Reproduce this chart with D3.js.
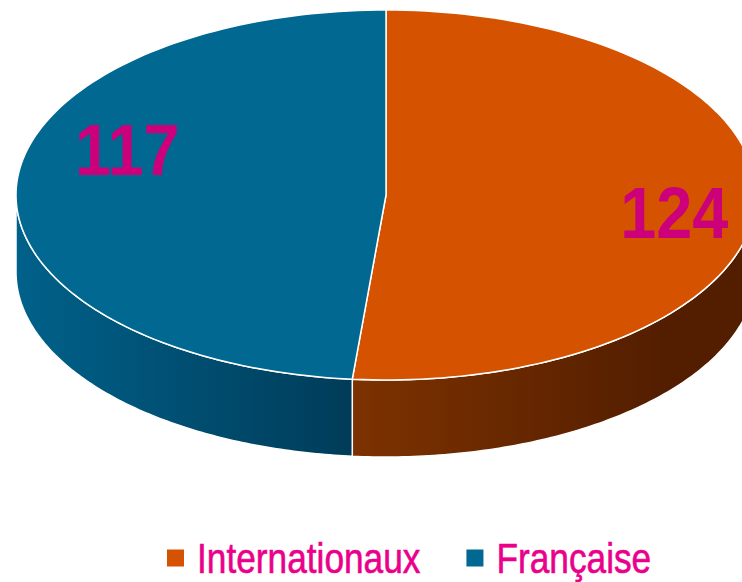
<!DOCTYPE html>
<html lang="fr">
  <head>
    <meta charset="utf-8" />
    <title>Internationaux / Française</title>
    <script src="https://cdn.jsdelivr.net/npm/d3@7"></script>
    <style type="text/css">
      body {
        margin: 0;
        background: #fff;
      }
      .value {
        font-family: "Liberation Sans", Arial, sans-serif;
        font-weight: bold;
        font-size: 72px;
        fill: #cc007a;
      }
      .legend text {
        font-family: "Liberation Sans", Arial, sans-serif;
        font-size: 43px;
        fill: #ea008a;
        stroke: #ea008a;
        stroke-width: 0.6px;
      }
    </style>
  </head>
  <body>
    <div id="chart"></div>
    <script type="text/javascript">
      /*******************************************
       * data
       *******************************************/
      const categories = ["Internationaux", "Française"];
      const values = [124, 117];
      const topColors = ["#d55300", "#006891"];
      const sideColors = [
        ["#7d3200", "#531e00"],
        ["#00618a", "#003c59"],
      ];

      /*******************************************
       * svg
       *******************************************/
      const width = 742;
      const height = 582;

      const cx = 386;
      const cy = 195;
      const rx = 370;
      const ry = 185;
      const depth = 77;
      const narrowValue = 0.9; // horizontal squeeze to mimic a condensed face
      const narrowLegend = 0.82;

      const svg = d3
        .select("div#chart")
        .append("svg")
        .attr("width", width)
        .attr("height", height);

      const pie = d3.pie().sort(null).value((d) => d);
      const arcs = pie(values);

      // point on the ellipse, d3 angle convention (0 = top, clockwise)
      const px = (a, f = 1) => cx + rx * f * Math.sin(a);
      const py = (a, f = 1) => cy - ry * f * Math.cos(a);

      function topPath(a0, a1) {
        const p = d3.path();
        p.moveTo(cx, cy);
        const n = 120;
        for (let i = 0; i <= n; i++) {
          const a = a0 + ((a1 - a0) * i) / n;
          p.lineTo(px(a), py(a));
        }
        p.closePath();
        return p.toString();
      }

      function sidePath(a0, a1) {
        const p = d3.path();
        const n = 120;
        for (let i = 0; i <= n; i++) {
          const a = a0 + ((a1 - a0) * i) / n;
          if (i === 0) p.moveTo(px(a), py(a));
          else p.lineTo(px(a), py(a));
        }
        for (let i = n; i >= 0; i--) {
          const a = a0 + ((a1 - a0) * i) / n;
          p.lineTo(px(a), py(a) + depth);
        }
        p.closePath();
        return p.toString();
      }

      /*******************************************
       * gradients for the sides
       *******************************************/
      const defs = svg.append("defs");
      sideColors.forEach((c, i) => {
        const g = defs
          .append("linearGradient")
          .attr("id", "side" + i)
          .attr("gradientUnits", "userSpaceOnUse")
          .attr("x1", i === 0 ? px(arcs[0].endAngle) : px(3 * Math.PI / 2))
          .attr("x2", i === 0 ? cx + rx * 0.75 : px(arcs[1].startAngle))
          .attr("y1", 0)
          .attr("y2", 0);
        g.append("stop").attr("offset", "0%").attr("stop-color", c[0]);
        g.append("stop").attr("offset", "100%").attr("stop-color", c[1]);
      });

      /*******************************************
       * sides (front half only)
       *******************************************/
      const sides = svg.append("g").attr("class", "sides");
      arcs.forEach((d, i) => {
        const a0 = Math.max(d.startAngle, Math.PI / 2);
        const a1 = Math.min(d.endAngle, (3 * Math.PI) / 2);
        if (a1 <= a0) return;
        sides
          .append("path")
          .attr("d", sidePath(a0, a1))
          .attr("fill", `url(#side${i})`)
          .attr("stroke", "#fff")
          .attr("stroke-width", 1.5)
          .attr("stroke-linejoin", "round");
      });

      /*******************************************
       * top face
       *******************************************/
      svg
        .append("g")
        .attr("class", "top")
        .selectAll("path")
        .data(arcs)
        .enter()
        .append("path")
        .attr("d", (d) => topPath(d.startAngle, d.endAngle))
        .attr("fill", (d, i) => topColors[i])
        .attr("stroke", "#fff")
        .attr("stroke-width", 1.5)
        .attr("stroke-linejoin", "round");

      /*******************************************
       * value labels
       *******************************************/
      const labelLayout = [
        { r: 0.78, dy: 36 },
        { r: 0.7, dy: -14 },
      ];
      svg
        .append("g")
        .selectAll("text")
        .data(arcs)
        .enter()
        .append("text")
        .attr("class", "value")
        .attr("text-anchor", "middle")
        .attr("transform", (d, i) => {
          const a = (d.startAngle + d.endAngle) / 2;
          const x = px(a, labelLayout[i].r);
          const y = py(a, labelLayout[i].r) + labelLayout[i].dy;
          return `translate(${x},${y}) scale(${narrowValue},1)`;
        })
        .text((d) => d.data);

      /*******************************************
       * legend
       *******************************************/
      const legend = svg.append("g").attr("class", "legend");
      const box = 17;
      const gapText = 13;
      const gapItem = 46;
      let x = 0;
      categories.forEach((c, i) => {
        const g = legend.append("g");
        g.append("rect")
          .attr("x", 0)
          .attr("y", -box / 2)
          .attr("width", box)
          .attr("height", box)
          .attr("fill", topColors[i]);
        const t = g
          .append("text")
          .attr("transform", `translate(${box + gapText},15) scale(${narrowLegend},1)`)
          .text(c);
        const w = box + gapText + t.node().getComputedTextLength() * narrowLegend;
        g.attr("transform", `translate(${x},0)`);
        x += w + gapItem;
      });
      legend.attr("transform", `translate(167,558)`);
    </script>
  </body>
</html>
